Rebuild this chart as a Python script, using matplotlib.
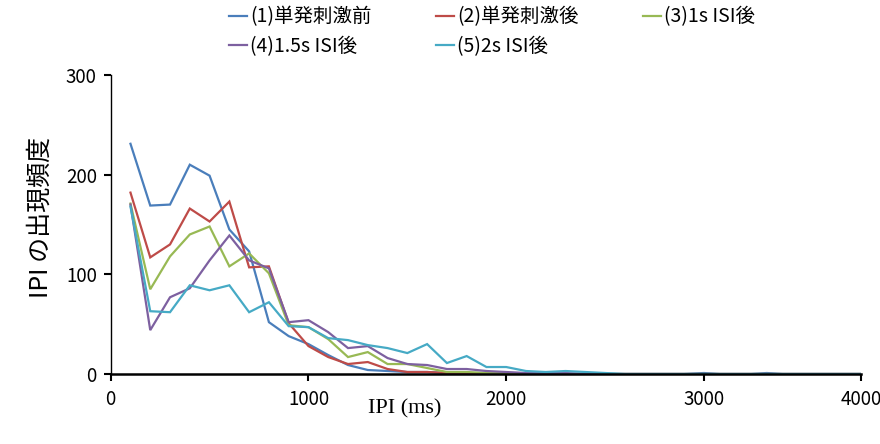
import numpy as np
import matplotlib
matplotlib.use("Agg")
import matplotlib.pyplot as plt

plt.rcParams['font.family'] = ['Noto Sans CJK JP', 'DejaVu Sans']

# IPI bins (ms)
ipi = list(range(100, 4100, 100))

labels = ["(1)単発刺激前", "(2)単発刺激後", "(3)1s ISI後", "(4)1.5s ISI後", "(5)2s ISI後"]
colors = ["#4A7EBB", "#BE4B48", "#98B954", "#7D60A0", "#46AAC5"]

s1 = [231, 169, 170, 210, 199, 145, 123, 52, 38, 30, 19, 9, 4, 3, 2, 2, 1, 1, 1, 1,
      0, 0, 0, 0, 0, 0, 0, 0, 0, 1, 0, 0, 0, 1, 0, 0, 0, 0, 0, 0]
s2 = [182, 117, 130, 166, 153, 173, 107, 108, 51, 28, 17, 10, 12, 5, 2, 2, 1, 1, 0, 0,
      0, 0, 0, 0, 0, 0, 0, 0, 0, 0, 0, 0, 0, 0, 0, 0, 0, 0, 0, 0]
s3 = [171, 85, 118, 140, 148, 108, 121, 101, 49, 47, 35, 17, 22, 10, 10, 6, 2, 2, 1, 1,
      0, 0, 0, 0, 0, 0, 0, 0, 0, 0, 0, 0, 0, 0, 0, 0, 0, 0, 0, 0]
s4 = [170, 44, 77, 86, 114, 139, 114, 106, 52, 54, 42, 26, 28, 16, 10, 9, 5, 5, 3, 2,
      1, 1, 1, 0, 0, 0, 0, 0, 0, 0, 0, 0, 0, 0, 0, 0, 0, 0, 0, 0]
s5 = [168, 63, 62, 89, 84, 89, 62, 72, 48, 47, 36, 34, 29, 26, 21, 30, 11, 18, 7, 7,
      3, 2, 3, 2, 1, 0, 0, 0, 0, 0, 0, 0, 0, 0, 0, 0, 0, 0, 0, 0]
series = [s1, s2, s3, s4, s5]

xticks = [0, 1000, 2000, 3000, 4000]
yticks = [0, 100, 200, 300]

W, H = 880, 444
fig = plt.figure(figsize=(W / 100, H / 100), dpi=100)
x0, x1, yb, yt = 110.7, 861, 374, 75
ax = fig.add_axes([x0 / W, (H - yb) / H, (x1 - x0) / W, (yb - yt) / H])

k = 0.794
def fwd(x):
    x = np.asarray(x, dtype=float)
    return np.where(x <= 3000, x, 3000 + (x - 3000) * k)
def inv(y):
    y = np.asarray(y, dtype=float)
    return np.where(y <= 3000, y, 3000 + (y - 3000) / k)
ax.set_xscale('function', functions=(fwd, inv))

handles = []
for s, lab, c in zip(series, labels, colors):
    h, = ax.plot(ipi, s, color=c, lw=1.6, label=lab, solid_joinstyle='miter')
    handles.append(h)

ax.set_xlim(0, 4000)
ax.set_ylim(0, 300)
ax.set_xticks(xticks)
ax.set_yticks(yticks)
ax.xaxis.set_minor_locator(matplotlib.ticker.NullLocator())
ax.tick_params(axis='both', direction='out', length=5, width=1.5, labelsize=13.5, pad=5, colors='black')
ax.tick_params(axis='x', pad=6)
for sp in ['top', 'right']:
    ax.spines[sp].set_visible(False)
ax.spines['left'].set_linewidth(1.0)
ax.spines['bottom'].set_linewidth(1.8)

ax.set_xlabel("IPI (ms)", family=['Liberation Serif', 'DejaVu Serif'], fontsize=16)
ax.xaxis.set_label_coords((405 - x0) / (x1 - x0), -(409 - yb) / (yb - yt), transform=ax.transAxes)
ax.xaxis.label.set_va('center')
ax.set_ylabel("IPI の出現頻度", fontsize=18)
ax.yaxis.set_label_coords(-(x0 - 41) / (x1 - x0), (yb - 217) / (yb - yt))
ax.yaxis.label.set_va('center')

order = [0, 3, 1, 4, 2]
fig.legend([handles[i] for i in order], [labels[i] for i in order], ncol=3,
           loc='upper left', bbox_to_anchor=(229 / W, 1 - 6.5 / H), frameon=False,
           fontsize=14, handlelength=0.9, handletextpad=0.2, columnspacing=3.3,
           labelspacing=0.44, borderpad=0, borderaxespad=0)

fig.savefig("out.png", dpi=100)
